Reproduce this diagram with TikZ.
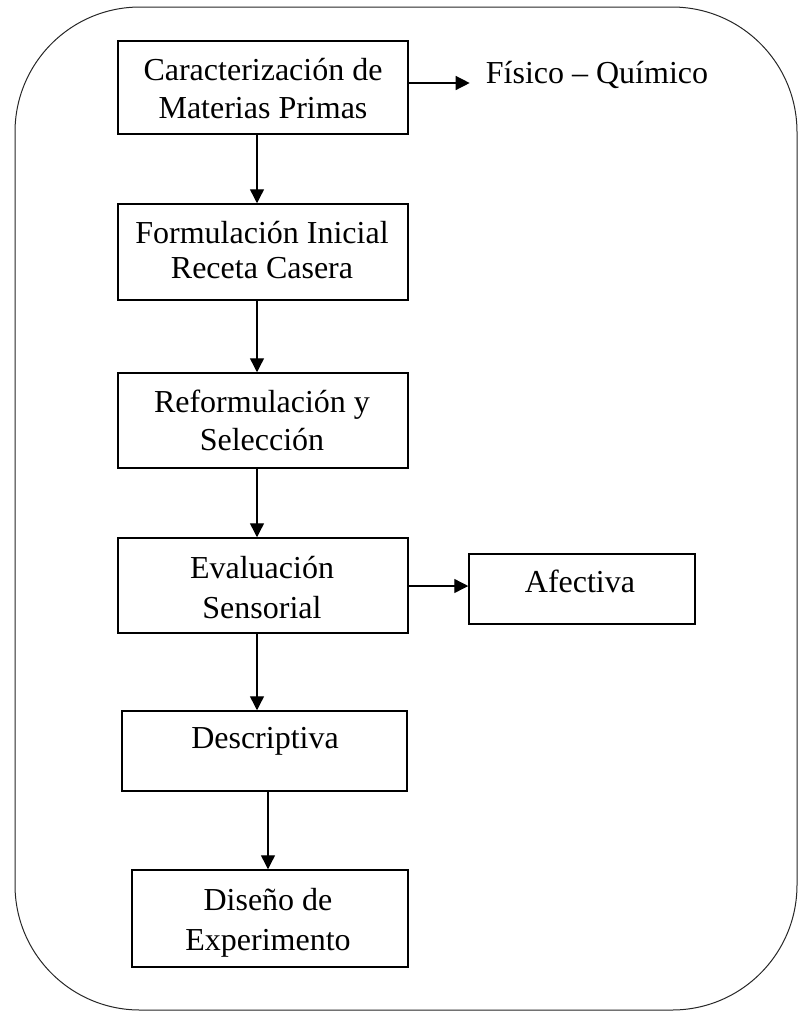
\documentclass[tikz,border=0pt]{standalone}
\usepackage{fontspec}
\setmainfont{Liberation Serif}
\usetikzlibrary{arrows.meta}
\newcommand{\twolines}[3]{\begin{tabular}[t]{@{}c@{}}#1\\[#3]#2\end{tabular}}
\tikzset{
  box/.style={draw, line width=1.5pt, rectangle, inner sep=0pt},
  txt/.style={anchor=base, inner sep=0pt, font=\fontsize{32}{35}\selectfont},
  arr/.style={-{Triangle[length=14pt,width=14pt]}, line width=1.4pt},
  frame/.style={draw=black!85, line width=1pt, rounded corners=125pt}
}
\begin{document}
\begin{tikzpicture}[x=1pt,y=-1pt]
\useasboundingbox (0,0) rectangle (799,1013);
\node[frame, minimum width=782pt, minimum height=1003pt] (frame) at (406,508.5) {};

\node[box, minimum width=290pt, minimum height=93pt] (b1) at (263,87.5) {};
\node[box, minimum width=290pt, minimum height=96pt] (b2) at (263,252) {};
\node[box, minimum width=290pt, minimum height=95pt] (b3) at (263,420.5) {};
\node[box, minimum width=290pt, minimum height=95pt] (b4) at (263,585.5) {};
\node[box, minimum width=226pt, minimum height=70pt] (b5) at (582,589) {};
\node[box, minimum width=285pt, minimum height=80pt] (b6) at (264.5,751) {};
\node[box, minimum width=276pt, minimum height=97pt] (b7) at (270,918.5) {};

\node[txt] (t1) at (263,80) {\twolines{Caracterización de}{Materias Primas}{3pt}};
\node[txt] (t2) at (262,243) {\twolines{Formulación Inicial}{Receta Casera}{0pt}};
\node[txt] (t3) at (262,412) {\twolines{Reformulación y}{Selección}{3pt}};
\node[txt] (t4) at (262,578) {\twolines{Evaluación}{Sensorial}{5pt}};
\node[txt] (t5) at (580,592) {Afectiva};
\node[txt] (t6) at (265,748) {Descriptiva};
\node[txt] (t7) at (268,910) {\twolines{Diseño de}{Experimento}{5pt}};
\node[txt] (fis) at (597,83) {Físico – Químico};

\draw[arr] (b1.east |- fis.base) -- ([xshift=-16pt]fis.base west);
\draw[arr] ([xshift=-6pt]b1.south) -- ([xshift=-6pt]b2.north);
\draw[arr] ([xshift=-6pt]b2.south) -- ([xshift=-6pt]b3.north);
\draw[arr] ([xshift=-6pt]b3.south) -- ([xshift=-6pt]b4.north);
\draw[arr] ([yshift=-0.5pt]b4.east) -- ([yshift=3pt]b5.west);
\draw[arr] ([xshift=-6pt]b4.south) -- ([xshift=-7.5pt]b6.north);
\draw[arr] ([xshift=3.5pt]b6.south) -- ([xshift=-2pt]b7.north);
\end{tikzpicture}
\end{document}
